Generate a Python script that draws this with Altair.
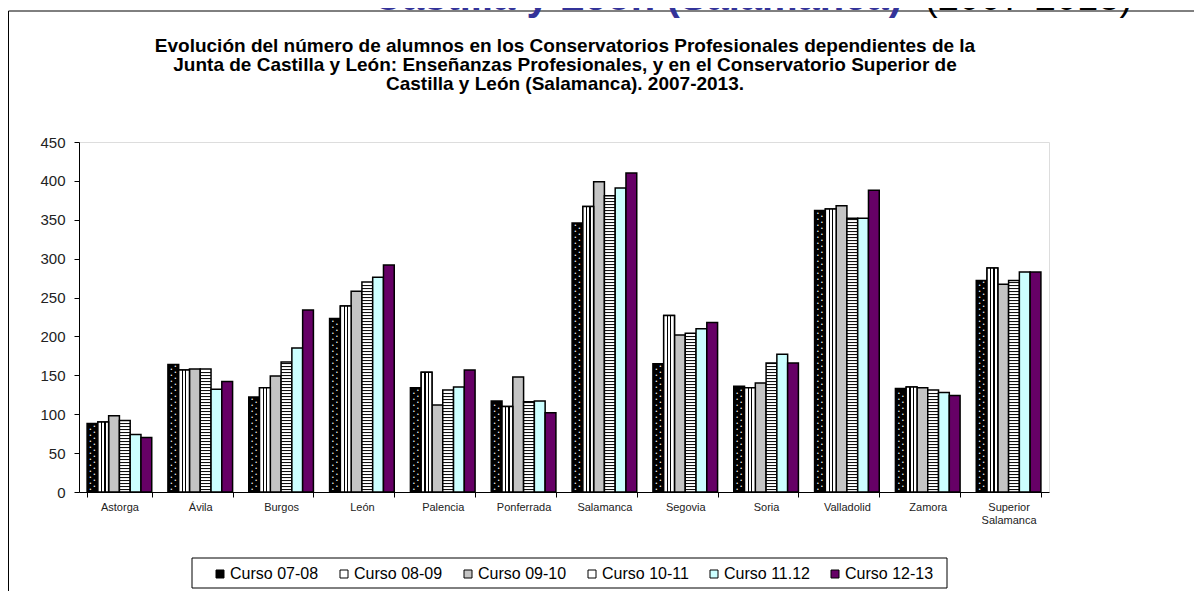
import altair as alt
import pandas as pd

categories = ["Astorga", "Ávila", "Burgos", "León", "Palencia", "Ponferrada",
              "Salamanca", "Segovia", "Soria", "Valladolid", "Zamora", "Superior Salamanca"]
series = ["Curso 07-08", "Curso 08-09", "Curso 09-10", "Curso 10-11", "Curso 11.12", "Curso 12-13"]
curso_07_08 = [88, 164, 122, 223, 134, 117, 346, 165, 136, 362, 133, 272]
curso_08_09 = [90, 157, 134, 239, 154, 110, 367, 227, 134, 364, 135, 288]
curso_09_10 = [98, 158, 149, 258, 112, 148, 399, 202, 140, 368, 134, 267]
curso_10_11 = [92, 158, 167, 270, 131, 116, 381, 204, 166, 352, 131, 272]
curso_11_12 = [74, 132, 185, 276, 135, 117, 391, 210, 177, 352, 128, 283]
curso_12_13 = [70, 142, 234, 292, 157, 102, 410, 218, 166, 388, 124, 283]
colors = ["#000000", "#ffffff", "#c4c4c4", "#ffffff", "#ccffff", "#660066"]
y_ticks = [0, 50, 100, 150, 200, 250, 300, 350, 400, 450]

title_lines = [
    "Evolución del número de alumnos en los Conservatorios Profesionales dependientes de la",
    "Junta de Castilla y León: Enseñanzas  Profesionales,  y en el Conservatorio Superior de",
    "Castilla y León  (Salamanca). 2007-2013.",
]
header_blue = "Castilla y León (Salamanca)"
header_black = "(2007-2013)"

all_values = [curso_07_08, curso_08_09, curso_09_10, curso_10_11, curso_11_12, curso_12_13]
rows = []
for s, vals in zip(series, all_values):
    for c, v in zip(categories, vals):
        rows.append({"category": c, "series": s, "value": v})
df = pd.DataFrame(rows)

FONT = "Liberation Sans"

x_enc = alt.X(
    "category:N", sort=categories,
    scale=alt.Scale(paddingInner=0.2, paddingOuter=0.1),
    axis=alt.Axis(title=None, labelAngle=0, tickBand="extent", tickSize=5,
                  labelFontSize=11, labelPadding=4, labelColor="#222222",
                  labelFont=FONT, labelBaseline="top", labelLineHeight=13,
                  domainColor="black", tickColor="black",
                  labelExpr="datum.label == 'Superior Salamanca' ? ['Superior', 'Salamanca'] : datum.label"),
)
xo_enc = alt.XOffset("series:N", sort=series,
                     scale=alt.Scale(domain=series, paddingInner=0, paddingOuter=0))
y_scale = alt.Scale(domain=[0, 450], nice=False)
y_axis = alt.Axis(title=None, values=y_ticks, grid=False, tickSize=5, labelPadding=9,
                  labelFontSize=15, labelFont=FONT, labelColor="#222222",
                  domainColor="black", tickColor="black")

base = alt.Chart(df)

bars = base.mark_bar(stroke="black", strokeWidth=1.5).encode(
    x=x_enc, xOffset=xo_enc,
    y=alt.Y("value:Q", scale=y_scale, axis=y_axis),
    color=alt.Color("series:N", sort=series,
                    scale=alt.Scale(domain=series, range=colors),
                    legend=alt.Legend(title=None, orient="none", legendX=133, legendY=424,
                                      direction="horizontal", columns=6, symbolType="square",
                                      symbolSize=64, symbolStrokeColor="black",
                                      symbolStrokeWidth=1, labelFontSize=16, labelFont=FONT,
                                      labelColor="black", labelOffset=2, columnPadding=17,
                                      padding=0, labelLimit=300)),
)

# white dots on the black 07-08 bars (two staggered columns)
dots_a = (
    base.transform_filter(alt.datum.series == "Curso 07-08")
    .transform_calculate(dot="sequence(4, datum.value - 2, 7.7)")
    .transform_flatten(["dot"])
    .mark_text(text="•", fontSize=5, color="white", dx=-2, baseline="middle", align="center")
    .encode(x=x_enc, xOffset=xo_enc, y=alt.Y("dot:Q", scale=y_scale, axis=y_axis))
)
dots_b = (
    base.transform_filter(alt.datum.series == "Curso 07-08")
    .transform_calculate(dot="sequence(7.85, datum.value - 2, 7.7)")
    .transform_flatten(["dot"])
    .mark_text(text="•", fontSize=5, color="white", dx=2, baseline="middle", align="center")
    .encode(x=x_enc, xOffset=xo_enc, y=alt.Y("dot:Q", scale=y_scale, axis=y_axis))
)

vgrad = alt.LinearGradient(
    gradient="linear", x1=0, x2=1, y1=0, y2=0,
    stops=[
        alt.GradientStop(offset=0, color="white"),
        alt.GradientStop(offset=0.3, color="white"),
        alt.GradientStop(offset=0.3, color="black"),
        alt.GradientStop(offset=0.41, color="black"),
        alt.GradientStop(offset=0.41, color="white"),
        alt.GradientStop(offset=0.6, color="white"),
        alt.GradientStop(offset=0.6, color="black"),
        alt.GradientStop(offset=0.71, color="black"),
        alt.GradientStop(offset=0.71, color="white"),
        alt.GradientStop(offset=1, color="white"),
    ],
)
vstripes = base.transform_filter(alt.datum.series == "Curso 08-09").mark_bar(
    fill=vgrad, stroke="black", strokeWidth=1.5
).encode(x=x_enc, xOffset=xo_enc, y=alt.Y("value:Q", scale=y_scale, axis=y_axis))

hstripes = (
    base.transform_filter(alt.datum.series == "Curso 10-11")
    .transform_calculate(stripe="sequence(2.5, datum.value - 1.5, 3.857)")
    .transform_flatten(["stripe"])
    .transform_calculate(stripe2="datum.stripe + 1.2857")
    .mark_bar(color="black")
    .encode(x=x_enc, xOffset=xo_enc,
            y=alt.Y("stripe:Q", scale=y_scale, axis=y_axis), y2="stripe2:Q")
)

one = alt.Chart(pd.DataFrame({"a": [0]}))
legend_box = one.mark_rect(fill="transparent", stroke="black", strokeWidth=1).encode(
    x=alt.value(113), x2=alt.value(868), y=alt.value(416), y2=alt.value(446))
frame = one.mark_rect(fill="transparent", stroke="black", strokeWidth=1).encode(
    x=alt.value(-70.5), x2=alt.value(1130), y=alt.value(-131), y2=alt.value(470))
head1 = one.mark_text(text=header_blue, font=FONT, fontSize=40,
                      fontWeight="bold", color="#333399", align="left",
                      baseline="alphabetic").encode(x=alt.value(294), y=alt.value(-132))
head2 = one.mark_text(text=header_black, font=FONT, fontSize=38, color="black",
                      align="left", baseline="alphabetic").encode(x=alt.value(846), y=alt.value(-132))
title = one.mark_text(text=title_lines, font=FONT, fontSize=19, fontWeight="bold",
                      color="black", align="center", baseline="top", lineHeight=19).encode(
    x=alt.value(486), y=alt.value(-105))

chart = alt.layer(frame, head1, head2, title, bars, dots_a, dots_b, vstripes, hstripes,
                  legend_box).properties(
    width=970, height=350,
    autosize=alt.AutoSizeParams(type="none"),
    padding={"left": 71, "top": 134, "right": 145, "bottom": 99},
).configure_view(stroke="#808080", strokeWidth=1).configure(background="white")

chart.save("out.html", embed_options={"renderer": "svg", "actions": False})
